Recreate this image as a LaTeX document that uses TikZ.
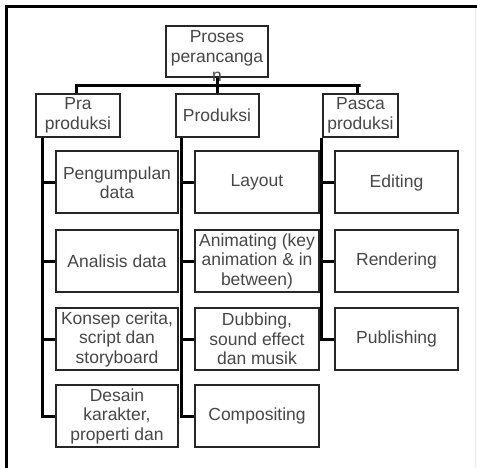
\documentclass[tikz,border=0pt]{standalone}
\usepackage{fontspec}
\setmainfont{Liberation Sans}
\begin{document}
\begin{tikzpicture}[x=1pt,y=-1pt,
  box/.style={draw=black!85, line width=2pt, fill=white, inner sep=0pt, align=center,
    text=black!72, font=\fontsize{17.5}{19.5}\selectfont},
  lbl/.style={inner sep=0pt, align=center, text=black!72, font=\fontsize{17.5}{19.5}\selectfont},
  conn/.style={draw=black, line width=3pt},
  frame/.style={draw=black, line width=3pt}]
\useasboundingbox (0,0) rectangle (477,468);
% frame
\draw[frame] (6,468) -- (6,7) -- (477,7);
\draw[black!8, line width=1pt] (475,8) -- (475,468);
% level 0 / 1
\node[box, minimum width=102pt, minimum height=51pt] (root) at (217,51.5) {};
\node[lbl] (roottxt) at (217,56) {Proses\\perancanga\\n};
\node[box, minimum width=84pt, minimum height=43pt] (pra) at (78,115.5) {Pra\\produksi};
\node[box, minimum width=83pt, minimum height=43pt] (prod) at (217,115.5) {Produksi};
\node[box, minimum width=75pt, minimum height=43pt] (pasca) at (360.5,115.5) {Pasca\\produksi};
% children
\tikzset{c1/.style={box, minimum width=122pt, minimum height=62pt},
         c2/.style={box, minimum width=124pt, minimum height=62pt},
         c3/.style={box, minimum width=123pt, minimum height=62pt}}
\node[c1] (a1) at (117,182.5) {Pengumpulan\\data};
\node[c1] (a2) at (117,261) {Analisis data};
\node[c1] (a3) at (117,339) {Konsep cerita,\\script dan\\storyboard};
\node[c1] (a4) at (117,416) {Desain\\karakter,\\properti dan};
\node[c2] (b1) at (257,182.5) {Layout};
\node[c2] (b2) at (257,261) {Animating (key\\animation \& in\\between)};
\node[c2] (b3) at (257,339) {Dubbing,\\sound effect\\dan musik};
\node[c2] (b4) at (257,416) {Compositing};
\node[c3] (d1) at (396.5,182.5) {Editing};
\node[c3] (d2) at (396.5,261) {Rendering};
\node[c3] (d3) at (396.5,339) {Publishing};
% connectors level 1
\draw[conn] (root.south) -- (prod.north);
\draw[conn] (pra.north) ++(-2,0) coordinate (pn) -- ++(0,-7) coordinate (bl) -- (bl -| pasca.north) -- ++(-3.5,0) coordinate (br);
\draw[conn] (br) -- (br |- pasca.north);
% spines
\coordinate (s1) at ([xshift=7pt]pra.south west);
\coordinate (s2) at ([xshift=7pt]prod.south west);
\coordinate (s3) at ([xshift=-1pt]pasca.south west);
\draw[conn] (s1) |- (a4.west);
\draw[conn] (s2) |- (b4.west);
\draw[conn] (s3) |- (d3.west);
\foreach \n in {a1,a2,a3} \draw[conn] (s1 |- \n.west) -- (\n.west);
\foreach \n in {b1,b2,b3} \draw[conn] (s2 |- \n.west) -- (\n.west);
\foreach \n in {d1,d2} \draw[conn] (s3 |- \n.west) -- (\n.west);
\end{tikzpicture}
\end{document}
